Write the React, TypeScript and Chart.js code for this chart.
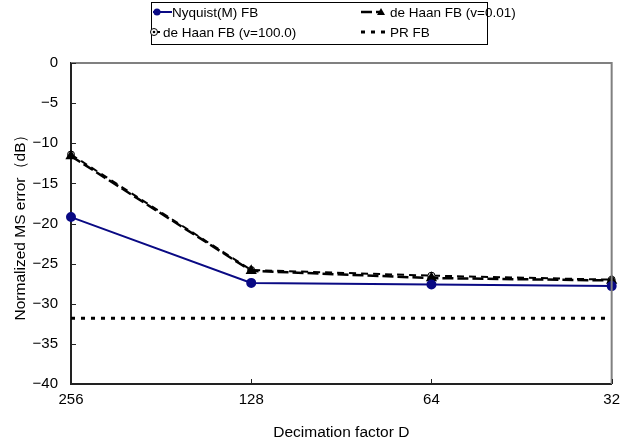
import React, { useEffect, useRef } from "react";
import { Chart, registerables } from "chart.js";

Chart.register(...registerables);

const categories = ["256", "128", "64", "32"];
const nyquist = [-19.2, -27.4, -27.6, -27.8];
const deHaan001 = [-11.6, -25.9, -26.8, -27.1];
const deHaan100 = [-11.4, -25.8, -26.5, -27.0];
const prFB = [-31.8, -31.8, -31.8, -31.8];
const seriesLabels = ["Nyquist(M) FB", "de Haan FB (v=0.01)", "de Haan FB (v=100.0)", "PR FB"];
const yTicks = [0, -5, -10, -15, -20, -25, -30, -35, -40];

const FONT = "'Liberation Sans', Arial, sans-serif";
const NAVY = "#0a0a84";

const framePlugin = {
  id: "frame",
  afterDatasetsDraw(chart: any) {
    const { ctx, chartArea } = chart;
    const { left, right, top, bottom } = chartArea;
    const xs = chart.scales.x;
    const ys = chart.scales.y;
    ctx.save();
    ctx.strokeStyle = "#808080";
    ctx.lineWidth = 2;
    ctx.beginPath();
    ctx.moveTo(left, top);
    ctx.lineTo(right, top);
    ctx.lineTo(right, bottom);
    ctx.stroke();
    ctx.strokeStyle = "#222";
    ctx.lineWidth = 1;
    ctx.beginPath();
    yTicks.forEach((v) => {
      const py = Math.round(ys.getPixelForValue(v)) + 0.5;
      ctx.moveTo(left, py);
      ctx.lineTo(left + 5, py);
    });
    categories.forEach((_, i) => {
      const px = Math.round(xs.getPixelForValue(i)) + 0.5;
      ctx.moveTo(px, bottom);
      ctx.lineTo(px, bottom - 5);
    });
    ctx.stroke();
    ctx.restore();
  },
};

function drawMarker(ctx: any, kind: string, x: number, y: number) {
  ctx.save();
  ctx.setLineDash([]);
  if (kind === "circle") {
    ctx.fillStyle = NAVY;
    ctx.beginPath();
    ctx.arc(x, y, 3.5, 0, Math.PI * 2);
    ctx.fill();
  } else if (kind === "triangle") {
    ctx.fillStyle = "#000";
    ctx.beginPath();
    ctx.moveTo(x, y - 4);
    ctx.lineTo(x + 4, y + 3);
    ctx.lineTo(x - 4, y + 3);
    ctx.closePath();
    ctx.fill();
  } else if (kind === "open") {
    ctx.strokeStyle = "#000";
    ctx.fillStyle = "#fff";
    ctx.lineWidth = 1;
    ctx.beginPath();
    ctx.arc(x, y, 3.5, 0, Math.PI * 2);
    ctx.fill();
    ctx.stroke();
    ctx.fillStyle = "#000";
    ctx.beginPath();
    ctx.arc(x, y, 1.3, 0, Math.PI * 2);
    ctx.fill();
  }
  ctx.restore();
}

const legendPlugin = {
  id: "boxLegend",
  afterDraw(chart: any) {
    const { ctx } = chart;
    const ds = chart.data.datasets;
    ctx.save();
    ctx.fillStyle = "#fff";
    ctx.fillRect(151, 2, 336, 42);
    ctx.strokeStyle = "#000";
    ctx.lineWidth = 1;
    ctx.strokeRect(151.5, 2.5, 336, 42);

    const items = [
      { i: 0, lx0: 153, lx1: 172, mx: 157, y: 12, tx: 172, marker: "circle" },
      { i: 1, lx0: 361, lx1: 382, mx: 381, y: 12, tx: 390, marker: "triangle" },
      { i: 2, lx0: 153, lx1: 161, mx: 154, y: 32, tx: 163, marker: "open" },
      { i: 3, lx0: 361, lx1: 388, mx: -1, y: 32, tx: 390, marker: "none" },
    ];
    items.forEach((it) => {
      const d = ds[it.i];
      ctx.save();
      ctx.strokeStyle = d.borderColor;
      ctx.lineWidth = d.borderWidth;
      ctx.setLineDash(d.borderDash || []);
      ctx.beginPath();
      ctx.moveTo(it.lx0, it.y);
      ctx.lineTo(it.lx1, it.y);
      ctx.stroke();
      ctx.restore();
      if (it.marker !== "none") drawMarker(ctx, it.marker, it.mx, it.y);
      ctx.fillStyle = "#000";
      ctx.font = `13.5px ${FONT}`;
      ctx.textBaseline = "middle";
      ctx.textAlign = "left";
      ctx.fillText(d.label, it.tx, it.y + 1);
    });
    ctx.restore();
  },
};

export default function App() {
  const ref = useRef<HTMLCanvasElement>(null);
  useEffect(() => {
    if (!ref.current) return;
    const chart = new Chart(ref.current, {
      type: "line",
      data: {
        labels: categories,
        datasets: [
          {
            label: seriesLabels[0],
            data: nyquist,
            borderColor: NAVY,
            backgroundColor: NAVY,
            borderWidth: 2,
            pointRadius: 4,
            pointStyle: "circle",
            pointBackgroundColor: NAVY,
            pointBorderColor: NAVY,
            tension: 0,
          },
          {
            label: seriesLabels[1],
            data: deHaan001,
            borderColor: "#000",
            backgroundColor: "#000",
            borderWidth: 2.5,
            borderDash: [11, 4],
            pointRadius: 4,
            pointStyle: "triangle",
            pointBackgroundColor: "#000",
            pointBorderColor: "#000",
            tension: 0,
          },
          {
            label: seriesLabels[2],
            data: deHaan100,
            borderColor: "#000",
            backgroundColor: "#fff",
            borderWidth: 2,
            borderDash: [7, 5],
            pointRadius: 3.5,
            pointStyle: "circle",
            pointBackgroundColor: "#fff",
            pointBorderColor: "#000",
            pointBorderWidth: 1,
            tension: 0,
          },
          {
            label: seriesLabels[3],
            data: prFB,
            borderColor: "#000",
            backgroundColor: "#000",
            borderWidth: 3,
            borderDash: [4, 6],
            pointRadius: 0,
            tension: 0,
          },
        ],
      },
      options: {
        animation: false,
        responsive: false,
        maintainAspectRatio: false,
        layout: { padding: { top: 63, right: 9, left: 0, bottom: 0 } },
        plugins: {
          legend: { display: false },
          tooltip: { enabled: false },
        },
        scales: {
          x: {
            type: "category",
            offset: false,
            grid: { display: false, drawTicks: false },
            border: { display: true, color: "#222", width: 2 },
            ticks: { color: "#000", font: { family: FONT, size: 15 }, padding: 7, maxRotation: 0, autoSkip: false },
            title: {
              display: true,
              text: "Decimation factor D",
              color: "#000",
              font: { family: FONT, size: 15.5 },
              padding: { top: 2, bottom: 1 },
            },
            afterFit(scale: any) {
              scale.height = 59;
            },
          },
          y: {
            min: -40,
            max: 0,
            grid: { display: false, drawTicks: false },
            border: { display: true, color: "#222", width: 2 },
            ticks: {
              stepSize: 5,
              color: "#000",
              font: { family: FONT, size: 15 },
              padding: 13,
              callback: (v: any) => String(v).replace("-", "\u2212"),
            },
            title: {
              display: true,
              text: "Normalized MS error\uFF08dB\uFF09",
              color: "#000",
              font: { family: FONT, size: 15.5 },
              padding: { top: 11, bottom: 0 },
            },
            afterFit(scale: any) {
              scale.width = 71;
            },
          },
        },
      },
      plugins: [framePlugin, legendPlugin],
    });
    return () => chart.destroy();
  }, []);
  return (
    <div style={{ position: "fixed", left: 0, top: 0, width: 627, height: 443, background: "#fff" }}>
      <canvas ref={ref} width={627} height={443} style={{ width: 627, height: 443 }} />
    </div>
  );
}
